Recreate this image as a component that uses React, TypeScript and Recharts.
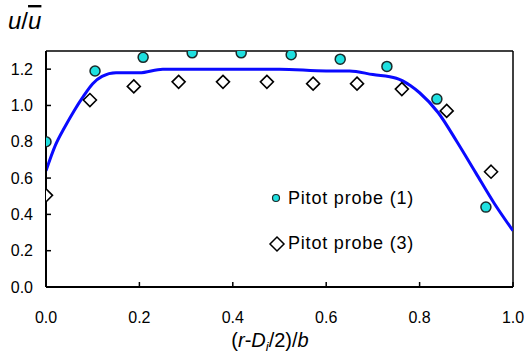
import {
  ComposedChart,
  Line,
  Scatter,
  XAxis,
  YAxis,
  ReferenceLine,
} from 'recharts'

// curve (blue line)
const curveX = [0, 0.02, 0.04, 0.06, 0.08, 0.1, 0.12, 0.15, 0.2, 0.25, 0.3, 0.4, 0.5, 0.6, 0.65, 0.7, 0.75, 0.78, 0.8, 0.84, 0.88, 0.92, 0.96, 1.0]
const curveY = [0.64, 0.78, 0.88, 0.97, 1.05, 1.12, 1.16, 1.18, 1.18, 1.2, 1.2, 1.2, 1.2, 1.19, 1.19, 1.17, 1.15, 1.11, 1.07, 0.96, 0.8, 0.63, 0.46, 0.31]

// Pitot probe (1)
const probe1X = [0.0, 0.105, 0.208, 0.313, 0.418, 0.525, 0.63, 0.73, 0.837, 0.942]
const probe1Y = [0.8, 1.19, 1.265, 1.29, 1.29, 1.28, 1.255, 1.215, 1.035, 0.44]

// Pitot probe (3)
const probe3X = [0.0, 0.094, 0.188, 0.284, 0.379, 0.473, 0.572, 0.666, 0.762, 0.858, 0.953]
const probe3Y = [0.505, 1.03, 1.105, 1.13, 1.13, 1.13, 1.12, 1.12, 1.09, 0.97, 0.635]

const xTicks = [0, 0.2, 0.4, 0.6, 0.8, 1.0]
const yTicks = [0, 0.2, 0.4, 0.6, 0.8, 1.0, 1.2]

const curve = curveX.map((x, i) => ({ x, y: curveY[i] }))
const probe1 = probe1X.map((x, i) => ({ x, y: probe1Y[i] }))
const probe3 = probe3X.map((x, i) => ({ x, y: probe3Y[i] }))

const FONT = '"Liberation Sans", Arial, sans-serif'
const CYAN = '#1fe0e0'

function Dot(props: any) {
  const { cx, cy } = props
  if (cx == null || cy == null) return null
  return <circle cx={cx} cy={cy} r={5} fill={CYAN} stroke="#1a2a2a" strokeWidth={1.5} />
}

function Diamond(props: any) {
  const { cx, cy } = props
  if (cx == null || cy == null) return null
  const s = 6.5
  return (
    <path
      d={`M${cx},${cy - s} L${cx + s},${cy} L${cx},${cy + s} L${cx - s},${cy} Z`}
      fill="#fff"
      stroke="#000"
      strokeWidth={1.6}
    />
  )
}

// legend drawn as an overlay inside the plot
function LegendBox() {
  const txt = {
    fontFamily: FONT,
    fontSize: 18,
    letterSpacing: '0.8px',
    color: '#000',
    position: 'absolute' as const,
    left: 288,
    lineHeight: '20px',
  }
  return (
    <>
      <svg width={528} height={356} style={{ position: 'absolute', left: 0, top: 0, pointerEvents: 'none' }}>
        <circle cx={276} cy={198} r={3.5} fill={CYAN} stroke="#1a2a2a" strokeWidth={1.2} />
        <path d="M277,237 L284,244 L277,251 L270,244 Z" fill="#fff" stroke="#000" strokeWidth={1.5} />
      </svg>
      <div style={{ ...txt, top: 188 }}>Pitot probe (1)</div>
      <div style={{ ...txt, top: 233 }}>Pitot probe (3)</div>
    </>
  )
}

function XTitle() {
  return (
    <text x={270} y={347} textAnchor="middle" fontFamily={FONT} fontSize={20} fill="#000">
      (<tspan fontStyle="italic">r</tspan>-<tspan fontStyle="italic">D</tspan>
      <tspan fontSize={13} dy={4} fontStyle="italic">i</tspan>
      <tspan dy={-4}>/2)/</tspan>
      <tspan fontStyle="italic">b</tspan>
    </text>
  )
}

function YTitle() {
  return (
    <text x={8} y={29} fontFamily={FONT} fontSize={24} fill="#000">
      <tspan fontStyle="italic">u</tspan>/<tspan fontStyle="italic" textDecoration="overline">u</tspan>
    </text>
  )
}

export default function App() {
  const tick = { fontSize: 16, fill: '#000', fontFamily: FONT }
  return (
    <div style={{ position: 'absolute', left: 0, top: 0, width: 528, height: 356, background: '#fff' }}>
      <ComposedChart width={528} height={356} margin={{ top: 51, right: 15, bottom: 39, left: 6 }}>
        <XAxis
          dataKey="x"
          type="number"
          domain={[0, 1]}
          ticks={xTicks}
          tickFormatter={(v: number) => v.toFixed(1)}
          tick={tick}
          tickSize={-5}
          tickMargin={30}
          tickLine={{ stroke: '#000', strokeWidth: 1.5 }}
          axisLine={{ stroke: '#000', strokeWidth: 2 }}
          height={30}
          allowDataOverflow
          label={{ content: () => <XTitle /> }}
        />
        <YAxis
          dataKey="y"
          type="number"
          domain={[0, 1.3]}
          ticks={yTicks}
          tickFormatter={(v: number) => v.toFixed(1)}
          tick={tick}
          tickSize={-5}
          tickMargin={18}
          tickLine={{ stroke: '#000', strokeWidth: 1.5 }}
          axisLine={{ stroke: '#000', strokeWidth: 2 }}
          width={40}
          allowDataOverflow
          label={{ content: () => <YTitle /> }}
        />
        <ReferenceLine y={1.3} stroke="#000" strokeWidth={1.5} />
        <ReferenceLine x={1} stroke="#000" strokeWidth={1.5} />
        <Line
          data={curve}
          dataKey="y"
          type="monotone"
          stroke="#0a0aff"
          strokeWidth={3}
          dot={false}
          activeDot={false}
          isAnimationActive={false}
          legendType="none"
        />
        <Scatter data={probe1} dataKey="y" shape={<Dot />} isAnimationActive={false} />
        <Scatter data={probe3} dataKey="y" shape={<Diamond />} isAnimationActive={false} />
      </ComposedChart>
      <LegendBox />
    </div>
  )
}
